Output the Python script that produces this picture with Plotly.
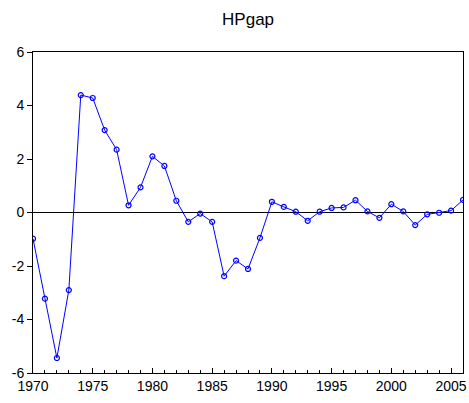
import plotly.graph_objects as go

years = list(range(1970, 2007))
hpgap = [-0.98, -3.22, -5.44, -2.90, 4.39, 4.28, 3.08, 2.35, 0.27, 0.94,
         2.10, 1.74, 0.44, -0.35, -0.04, -0.35, -2.38, -1.80, -2.11, -0.95,
         0.40, 0.21, 0.03, -0.31, 0.03, 0.17, 0.19, 0.46, 0.04, -0.20,
         0.31, 0.04, -0.47, -0.07, -0.01, 0.07, 0.47]

y_ticks = [-6, -4, -2, 0, 2, 4, 6]
y_labels = ["-6", "-4", "-2", "0", "2", "4", "6"]
x_ticks = [1970, 1975, 1980, 1985, 1990, 1995, 2000, 2005]
x_labels = [str(v) for v in x_ticks]

fig = go.Figure()
fig.add_trace(go.Scatter(
    x=years, y=hpgap, mode="lines+markers",
    line=dict(color="#0000FF", width=1),
    marker=dict(symbol="circle-open", size=5, color="#0000FF", line=dict(width=1.2)),
    showlegend=False,
))

fig.update_layout(
    width=469, height=403,
    margin=dict(l=33, r=6, t=52, b=30),
    paper_bgcolor="white", plot_bgcolor="white",
    title=dict(text="HPgap", x=0.529, xanchor="center", y=0.953, yanchor="middle",
               font=dict(family="Arial, Liberation Sans", size=17, color="black")),
    font=dict(family="Arial, Liberation Sans", size=14, color="black"),
    xaxis=dict(range=[1970, 2006], tickvals=x_ticks, ticktext=x_labels,
               automargin=False,
               showgrid=False, zeroline=False, showline=True, linecolor="black",
               linewidth=1, mirror=True, ticks="inside", ticklen=5, tickcolor="black",
               minor=dict(dtick=1, tick0=1970, ticks="inside", ticklen=3, tickcolor="black", showgrid=False),
               tickfont=dict(size=14)),
    yaxis=dict(range=[-6, 6], tickvals=y_ticks, ticktext=y_labels,
               automargin=False,
               showgrid=False, zeroline=True, zerolinecolor="black", zerolinewidth=1,
               showline=True, linecolor="black", linewidth=1, mirror=True,
               ticks="outside", ticklen=5, tickcolor="black", tickfont=dict(size=14)),
)

fig.write_html("out.html",
               config={"displayModeBar": False},
               post_script="document.body.style.margin='0';document.body.style.overflow='hidden';")
